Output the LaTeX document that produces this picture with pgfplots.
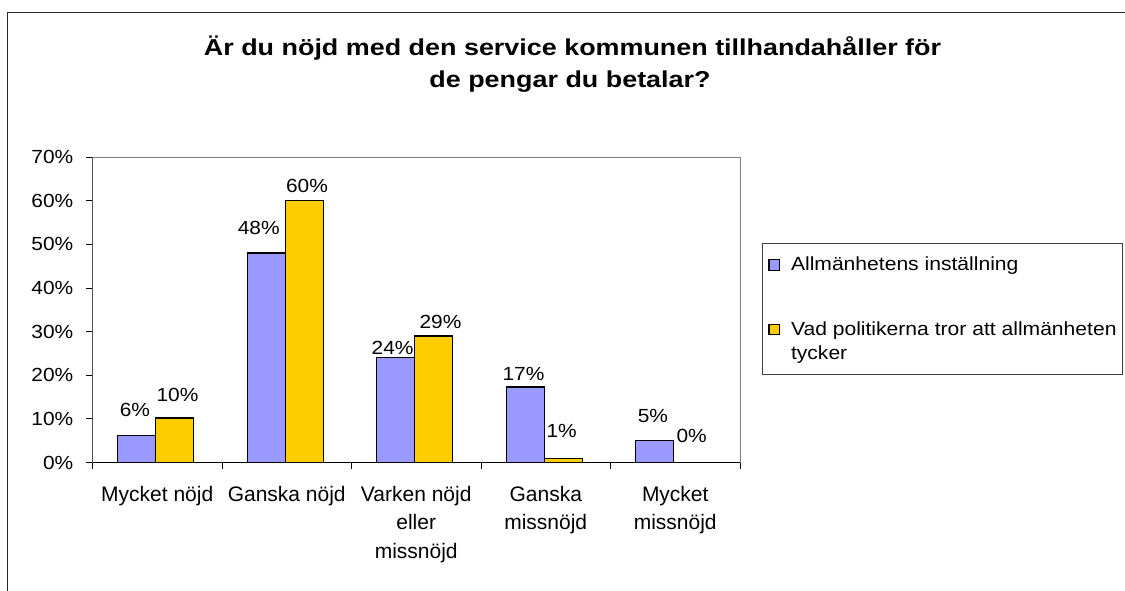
\documentclass[border=0pt]{standalone}
\usepackage{pgfplots}
\pgfplotsset{compat=1.18}
\usepackage{fontspec}
\setmainfont{Liberation Sans}
\newfontfamily\lsfont[FakeStretch=1.1]{Liberation Sans}
\newfontfamily\legfont[FakeStretch=1.11]{Liberation Sans}
\newfontfamily\ttlfont[FakeStretch=1.17]{Liberation Sans}
\definecolor{cblue}{HTML}{9999FF}
\definecolor{cyellow}{HTML}{FFCC00}
\begin{document}
\begin{tikzpicture}[x=1pt,y=1pt]
\useasboundingbox (0,0) rectangle (1125,590);
\draw[line width=1.3pt, black!85] (7.5,-5) -- (7.5,577.5) -- (1130,577.5);
\node[anchor=base, inner sep=0pt, font=\ttlfont\bfseries\fontsize{23}{26}\selectfont] at (572.5,534) {Är du nöjd med den service kommunen tillhandahåller för};
\node[anchor=base, inner sep=0pt, font=\ttlfont\bfseries\fontsize{23}{26}\selectfont] at (570,502.5) {de pengar du betalar?};
\begin{axis}[
  at={(92.5pt,127.5pt)}, anchor=south west,
  width=647.5pt, height=305.5pt, scale only axis,
  xmin=-0.5, xmax=4.5, ymin=0, ymax=70,
  axis line style={draw=gray, line width=0.8pt},
  tick style={black, line width=0.8pt},
  tick align=outside, tick pos=left,
  major tick length=6.5pt,
  ytick={0,10,20,30,40,50,60,70},
  yticklabels={0\%,10\%,20\%,30\%,40\%,50\%,60\%,70\%},
  yticklabel style={anchor=east, inner sep=0pt, xshift=-12.5pt, font=\lsfont\fontsize{19}{22}\selectfont},
  xtick={-0.5,0.5,1.5,2.5,3.5,4.5},
  xticklabels={},
  extra x ticks={0,1,2,3,4},
  extra x tick labels={Mycket nöjd,Ganska nöjd,{Varken nöjd\\eller\\missnöjd},{Ganska\\missnöjd},{Mycket\\missnöjd}},
  extra x tick style={major tick length=0pt},
  xticklabel style={anchor=north, inner sep=0pt, yshift=-23.2pt, align=center, font=\fontsize{21}{28.5}\selectfont},
  legend style={at={(1.0340,0.7201)}, anchor=north west, draw=black!75, line width=0.8pt,
    inner xsep=6pt, inner ysep=8pt, row sep=43.4pt, column sep=11pt,
    font=\legfont\fontsize{19}{24}\selectfont,
    nodes={inner sep=0pt, text depth={}},
    cells={anchor=base west}},
]
\addplot[ybar, bar width=38pt, bar shift=-20.5pt, fill=cblue, draw=black, line width=1.2pt,
  legend image code/.code={\draw[fill=cblue, draw=black, line width=1.1pt] (0pt,0.5pt) rectangle (10.5pt,11pt);}]
  coordinates {(0,6.1) (1,48) (2,24) (3,17.3) (4,5)};
\addlegendentry{\rule{0pt}{20pt}Allmänhetens inställning}
\addplot[ybar, bar width=38pt, bar shift=17.5pt, fill=cyellow, draw=black, line width=1.2pt,
  legend image code/.code={\draw[fill=cyellow, draw=black, line width=1.1pt] (0pt,0.5pt) rectangle (10.5pt,11pt);}]
  coordinates {(0,10.2) (1,60) (2,29) (3,0.9) (4,0)};
\addlegendentry{\begin{tabular}[t]{@{}l@{}}Vad politikerna tror att allmänheten\hspace{12pt}\\tycker\end{tabular}}
\addplot[draw=none, mark=none, forget plot, nodes near coords, point meta=explicit symbolic,
  every node near coord/.style={inner sep=0pt, anchor=south, text=black, font=\lsfont\fontsize{19}{22}\selectfont}]
  coordinates {(-0.172,10.49) [6\%] (0.784,52.13) [48\%] (1.817,24.63) [24\%] (2.828,18.67) [17\%] (3.828,9.12) [5\%]};
\addplot[draw=none, mark=none, forget plot, nodes near coords, point meta=explicit symbolic,
  every node near coord/.style={inner sep=0pt, anchor=south, text=black, font=\lsfont\fontsize{19}{22}\selectfont}]
  coordinates {(0.156,13.93) [10\%] (1.156,61.68) [60\%] (2.187,30.52) [29\%] (3.123,5.61) [1\%] (4.127,4.47) [0\%]};
\draw[black, line width=1pt] (rel axis cs:0,1) -- (rel axis cs:0,0) -- (rel axis cs:1,0);
\end{axis}
\end{tikzpicture}
\end{document}
